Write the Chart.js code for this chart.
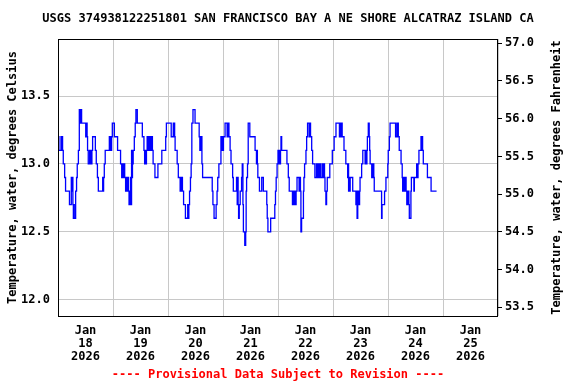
<!DOCTYPE html>
<html>
<head>
<meta charset="utf-8">
<script src="https://cdn.jsdelivr.net/npm/chart.js@4.4.1/dist/chart.umd.min.js"></script>
<style>
  html, body { margin: 0; padding: 0; background: #fff; }
  #wrap { width: 576px; height: 384px; }
</style>
</head>
<body>
<div id="wrap"><canvas id="chart" width="576" height="384"></canvas></div>
<script>
// hours since Jan 18 2026 00:00, and the reading that starts at that hour
const hours = [
  0.1, 0.4, 1.3, 1.5, 1.8, 2.0, 2.3, 2.9, 3.3, 5.0, 5.8, 6.1, 6.3, 6.5, 6.7, 7.3, 7.5, 7.7, 8.1, 8.4,
  8.9, 9.3, 9.7, 9.9, 10.0, 10.2, 10.3, 12.1, 12.5, 12.7, 12.9, 13.2, 13.8, 14.1, 14.3, 14.6, 14.8, 15.1, 16.3, 16.7,
  17.2, 17.6, 19.5, 19.7, 19.9, 20.2, 20.6, 22.4, 22.6, 22.9, 23.2, 23.4, 23.7, 24.6, 26.0, 27.3, 27.8, 28.2, 28.5, 28.8,
  29.1, 29.5, 29.8, 30.1, 30.4, 30.7, 31.0, 31.4, 31.6, 31.8, 32.1, 32.3, 32.5, 32.8, 33.3, 33.7, 34.0, 34.6, 36.8, 37.5,
  37.8, 38.1, 38.4, 38.6, 38.9, 39.4, 39.6, 39.8, 40.1, 40.6, 40.9, 41.2, 41.5, 42.3, 43.6, 45.3, 47.0, 47.3, 49.4, 50.3,
  50.5, 50.7, 50.9, 51.1, 52.0, 52.5, 53.3, 53.6, 53.8, 54.0, 54.3, 54.8, 55.6, 56.6, 56.9, 57.1, 57.4, 57.8, 58.1, 58.4,
  58.9, 59.8, 61.6, 61.9, 62.1, 62.3, 62.6, 62.8, 63.1, 67.3, 67.6, 68.1, 69.0, 69.4, 69.7, 70.2, 71.1, 71.4, 71.7, 71.9,
  72.2, 72.9, 73.8, 74.0, 74.2, 74.4, 74.6, 75.1, 75.5, 76.2, 76.5, 77.9, 78.2, 78.4, 78.6, 78.8, 79.1, 79.5, 80.1, 80.4,
  80.7, 80.9, 81.5, 81.9, 82.1, 82.3, 82.7, 83.0, 83.7, 86.0, 86.6, 86.8, 87.0, 87.2, 87.9, 88.9, 89.6, 91.1, 91.3, 91.6,
  92.8, 94.6, 94.9, 95.2, 95.6, 96.0, 96.3, 96.6, 96.9, 97.1, 97.3, 97.6, 99.9, 100.5, 100.9, 102.3, 102.8, 103.0, 103.3, 103.6,
  103.9, 104.3, 105.2, 105.5, 105.8, 106.0, 106.3, 107.1, 107.3, 107.6, 108.2, 108.5, 108.9, 109.6, 110.0, 110.2, 110.7, 111.1, 112.1, 112.8,
  113.2, 113.5, 113.8, 114.3, 114.6, 115.3, 115.6, 116.1, 116.3, 116.5, 116.9, 117.2, 117.5, 118.6, 119.7, 120.5, 121.3, 122.8, 123.2, 123.5,
  123.7, 124.0, 124.8, 125.6, 126.4, 126.6, 126.8, 127.0, 127.2, 127.5, 128.6, 130.0, 130.3, 130.5, 130.8, 131.0, 131.2, 131.4, 131.6, 131.8,
  132.5, 133.0, 134.0, 134.3, 134.5, 134.8, 135.0, 135.4, 135.8, 136.0, 136.2, 136.9, 137.2, 137.4, 137.6, 137.8, 138.0, 141.2, 141.4, 142.5,
  143.1, 143.9, 144.1, 144.6, 144.9, 147.3, 147.9, 148.1, 148.3, 148.5, 148.9, 149.7, 150.2, 150.4, 150.6, 150.8, 151.0, 151.3, 151.6, 151.9,
  152.2, 152.5, 152.7, 152.9, 153.1, 153.3, 154.0, 154.2, 155.3, 155.5, 156.5, 156.8, 157.1, 157.5, 158.4, 158.7, 158.9, 159.1, 159.4, 161.2,
  162.8, 165.0, 165.2
];
const tempC = [
  13.3, 13.2, 13.1, 13.2, 13.1, 13.2, 13.1, 13.0, 12.9, 12.8, 12.7, 12.9, 12.8, 12.9, 12.7, 12.6, 12.7, 12.6, 12.8, 12.9,
  13.0, 13.1, 13.4, 13.3, 13.4, 13.3, 13.4, 13.3, 13.2, 13.3, 13.2, 13.1, 13.0, 13.1, 13.0, 13.1, 13.0, 13.1, 13.2, 13.1,
  13.0, 12.9, 12.8, 12.9, 12.8, 12.9, 13.0, 13.1, 13.2, 13.1, 13.2, 13.1, 13.2, 13.3, 13.2, 13.1, 13.0, 12.9, 13.0, 12.9,
  13.0, 12.9, 12.8, 12.9, 12.8, 12.9, 12.8, 12.7, 12.8, 12.9, 12.7, 13.1, 12.9, 13.0, 13.1, 13.2, 13.3, 13.4, 13.3, 13.2,
  13.1, 13.0, 13.1, 13.0, 13.1, 13.2, 13.1, 13.2, 13.1, 13.2, 13.1, 13.2, 13.1, 13.0, 12.9, 13.0, 13.1, 13.2, 13.3, 13.2,
  13.3, 13.2, 13.3, 13.2, 13.1, 13.0, 12.9, 12.8, 12.9, 12.8, 12.9, 12.8, 12.7, 12.6, 12.7, 12.6, 12.7, 12.8, 12.9, 13.0,
  13.3, 13.4, 13.3, 13.2, 13.1, 13.2, 13.1, 13.2, 13.0, 12.9, 12.8, 12.7, 12.6, 12.7, 12.8, 12.9, 13.0, 13.2, 13.1, 13.2,
  13.1, 13.2, 13.3, 13.2, 13.3, 13.2, 13.3, 13.2, 13.1, 13.0, 12.9, 12.8, 12.9, 12.7, 12.9, 12.7, 12.6, 12.7, 12.8, 12.9,
  13.0, 12.7, 12.5, 12.4, 12.5, 12.8, 12.9, 13.0, 13.3, 13.2, 13.1, 13.0, 13.1, 13.0, 12.9, 12.8, 12.9, 12.8, 12.7, 12.6,
  12.5, 12.6, 12.7, 12.8, 12.9, 13.0, 13.1, 13.0, 13.1, 13.0, 13.1, 13.2, 13.1, 13.0, 12.9, 12.8, 12.7, 12.8, 12.7, 12.8,
  12.7, 12.8, 12.9, 12.8, 12.9, 12.8, 12.5, 12.6, 12.8, 12.9, 13.0, 13.1, 13.2, 13.3, 13.2, 13.3, 13.2, 13.1, 13.0, 12.9,
  13.0, 12.9, 13.0, 12.9, 13.0, 12.9, 13.0, 12.9, 13.0, 12.9, 12.8, 12.7, 12.8, 12.9, 13.0, 13.1, 13.2, 13.3, 13.2, 13.3,
  13.2, 13.3, 13.2, 13.1, 13.0, 12.9, 13.0, 12.8, 12.9, 12.8, 12.9, 12.8, 12.7, 12.8, 12.6, 12.8, 12.7, 12.8, 12.7, 12.8,
  12.9, 13.0, 13.1, 13.0, 13.1, 13.0, 13.1, 13.2, 13.3, 13.2, 13.1, 13.0, 12.9, 13.0, 12.9, 13.0, 12.9, 12.8, 12.6, 12.7,
  12.8, 12.9, 13.0, 13.1, 13.2, 13.3, 13.2, 13.3, 13.2, 13.3, 13.2, 13.1, 13.0, 12.9, 12.8, 12.9, 12.8, 12.9, 12.8, 12.9,
  12.8, 12.7, 12.8, 12.7, 12.8, 12.7, 12.6, 12.8, 12.9, 12.8, 12.9, 13.0, 12.9, 13.0, 13.1, 13.2, 13.1, 13.2, 13.1, 13.0,
  12.9, 12.8, 12.8
];

const month = 'Jan';
const year = '2026';
const days = ['18', '19', '20', '21', '22', '23', '24', '25'];
const celsiusTicks = [12.0, 12.5, 13.0, 13.5];
const fahrenheitTicks = [53.5, 54.0, 54.5, 55.0, 55.5, 56.0, 56.5, 57.0];

const yMin = 11.88;
const yMax = 13.92;
const toF = c => c * 1.8 + 32;

const FONT = '"DejaVu Sans Mono", "Liberation Mono", monospace';
const gridGrey = '#c8c8c8';

// box round the plot and the right hand axis title (reads bottom to top)
const framePlugin = {
    id: 'frame',
    afterDraw(chart) {
        const { ctx, chartArea: a } = chart;
        ctx.save();
        ctx.strokeStyle = '#000';
        ctx.lineWidth = 1;
        ctx.strokeRect(a.left + 0.5, a.top + 0.5, a.right - a.left - 1, a.bottom - a.top);
        ctx.translate(557, (a.top + a.bottom) / 2);
        ctx.rotate(-Math.PI / 2);
        ctx.font = 'bold 12px ' + FONT;
        ctx.fillStyle = '#000';
        ctx.textAlign = 'center';
        ctx.textBaseline = 'middle';
        ctx.fillText('Temperature, water, degrees Fahrenheit', 0, 0);
        ctx.restore();
    }
};

new Chart(document.getElementById('chart'), {
    type: 'line',
    data: {
        datasets: [{
            data: hours.map((h, i) => ({ x: h, y: tempC[i] })),
            borderColor: '#0000ff',
            borderWidth: 1.3,
            pointRadius: 0,
            stepped: 'after',
            yAxisID: 'y'
        }]
    },
    options: {
        responsive: false,
        animation: false,
        devicePixelRatio: 1,
        layout: { padding: 0 },
        plugins: {
            legend: { display: false },
            tooltip: { enabled: false },
            title: {
                display: true,
                text: 'USGS 374938122251801 SAN FRANCISCO BAY A NE SHORE ALCATRAZ ISLAND CA',
                color: '#000',
                font: { family: FONT, size: 12, weight: 'bold' },
                padding: { top: 12, bottom: 12.6 }
            }
        },
        scales: {
            x: {
                type: 'linear',
                min: 0,
                max: 192,
                afterBuildTicks: scale => {
                    scale.ticks = [];
                    for (let h = 0; h <= 192; h += 12) scale.ticks.push({ value: h });
                },
                afterFit: scale => { scale.height = 68; },
                grid: {
                    color: c => (c.tick && c.tick.value % 24 === 0) ? gridGrey : 'rgba(0,0,0,0)',
                    drawTicks: false
                },
                border: { display: false },
                ticks: {
                    autoSkip: false,
                    maxRotation: 0,
                    padding: 8,
                    color: '#000',
                    font: { family: FONT, size: 12, weight: 'bold', lineHeight: 1.08 },
                    callback: v => (v % 24 === 12) ? [month, days[(v - 12) / 24], year] : ''
                },
                title: {
                    display: true,
                    text: '---- Provisional Data Subject to Revision ----',
                    color: '#ff0000',
                    font: { family: FONT, size: 12, weight: 'bold' },
                    padding: { top: 0, bottom: 2 }
                }
            },
            y: {
                position: 'left',
                min: yMin,
                max: yMax,
                afterBuildTicks: scale => { scale.ticks = celsiusTicks.map(v => ({ value: v })); },
                afterFit: scale => { scale.width = 58; },
                grid: { color: gridGrey, drawTicks: false },
                border: { display: false },
                ticks: {
                    padding: 8,
                    color: '#000',
                    font: { family: FONT, size: 12, weight: 'bold' },
                    callback: v => v.toFixed(1)
                },
                title: {
                    display: true,
                    text: 'Temperature, water, degrees Celsius',
                    color: '#000',
                    font: { family: FONT, size: 12, weight: 'bold' },
                    padding: { top: 6, bottom: 0 }
                }
            },
            y2: {
                position: 'right',
                min: toF(yMin),
                max: toF(yMax),
                afterBuildTicks: scale => { scale.ticks = fahrenheitTicks.map(v => ({ value: v })); },
                afterFit: scale => { scale.width = 78; },
                grid: { drawOnChartArea: false, drawTicks: true, tickLength: 4, color: '#000' },
                border: { display: false },
                ticks: {
                    padding: 3,
                    color: '#000',
                    font: { family: FONT, size: 12, weight: 'bold' },
                    callback: v => v.toFixed(1)
                }
            }
        }
    },
    plugins: [framePlugin]
});
</script>
</body>
</html>
